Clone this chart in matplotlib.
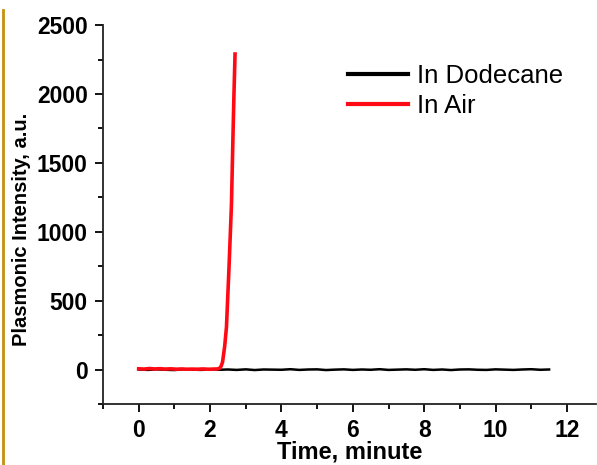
import numpy as np
import matplotlib
matplotlib.use("Agg")
import matplotlib.pyplot as plt
from matplotlib.lines import Line2D
from matplotlib.ticker import MultipleLocator

# black trace: in dodecane, flat around zero
dodecane_time = np.linspace(0, 11.5, 47)
dodecane_signal = [1, -2, 2, -1, -3, 2, 0, -2, 3, -1, 1, -2, 2, -3, 1, 0,
                   -1, 3, -2, 1, 2, -3, 0, 2, -2, 1, -1, 3, -2, 0, 2, -1,
                   3, -2, 1, -3, 1, 2, -1, -2, 2, 0, -2, 1, 3, -1, 1]

# red trace: in air, flat then a sharp rise after ~2.3 min
air_time = [0.0, 0.15, 0.3, 0.45, 0.6, 0.75, 0.9, 1.05, 1.2, 1.35, 1.5,
            1.65, 1.8, 1.95, 2.1, 2.2, 2.27, 2.31, 2.35, 2.41, 2.46, 2.53,
            2.60, 2.64, 2.67, 2.70]
air_signal = [6, 4, 8, 5, 7, 4, 6, 3, 5, 3, 4, 3, 5, 3, 4, 5, 10, 25,
              55, 170, 310, 735, 1200, 1670, 2000, 2290]

fig = plt.figure(figsize=(5.97, 4.65), dpi=100)
ax = fig.add_axes([0.1725, 0.131, 0.825, 0.815])

ax.plot(dodecane_time, dodecane_signal, color="black", lw=1.8, label="In Dodecane")
ax.plot(air_time, air_signal, color="#ff0a14", lw=2.6, label="In Air")

ax.set_xlim(-1, 12.8)
ax.set_ylim(-250, 2500)
ax.xaxis.set_major_locator(MultipleLocator(2))
ax.xaxis.set_minor_locator(MultipleLocator(1))
ax.yaxis.set_major_locator(MultipleLocator(500))
ax.yaxis.set_minor_locator(MultipleLocator(250))

for s in ["top", "right"]:
    ax.spines[s].set_visible(False)
for s in ["left", "bottom"]:
    ax.spines[s].set_linewidth(1.3)
    ax.spines[s].set_color("#222222")

ax.tick_params(which="major", direction="out", length=6, width=1.3,
               labelsize=16.5, pad=5)
ax.tick_params(which="minor", direction="out", length=3.5, width=1.3)
for lab in ax.get_xticklabels() + ax.get_yticklabels():
    lab.set_fontweight("bold")
    lab.set_fontfamily("Liberation Sans")

ax.set_xlabel("Time, minute", fontsize=17, fontweight="bold",
              fontfamily="Liberation Sans")
ax.set_ylabel("Plasmonic Intensity, a.u.", fontsize=14.5, fontweight="bold",
              fontfamily="Liberation Sans")
ax.xaxis.set_label_coords(0.5, -0.097, transform=ax.transAxes)
ax.yaxis.set_label_coords(-0.147, 0.462, transform=ax.transAxes)

leg = ax.legend(loc="upper left", bbox_to_anchor=(348 / 597, 1 - 64 / 465),
                bbox_transform=fig.transFigure, frameon=False,
                prop={"family": "Liberation Sans", "size": 18.5},
                handlelength=2.35, handletextpad=0.35, borderpad=0,
                borderaxespad=0, labelspacing=0.22)
for h in leg.get_lines():
    h.set_linewidth(3)

# gold border line at the left edge
fig.add_artist(Line2D([2.5 / 597, 2.5 / 597], [0, 1 - 10 / 465],
                      transform=fig.transFigure, color="#c8900c", lw=2))

fig.savefig("out.png", dpi=100)
